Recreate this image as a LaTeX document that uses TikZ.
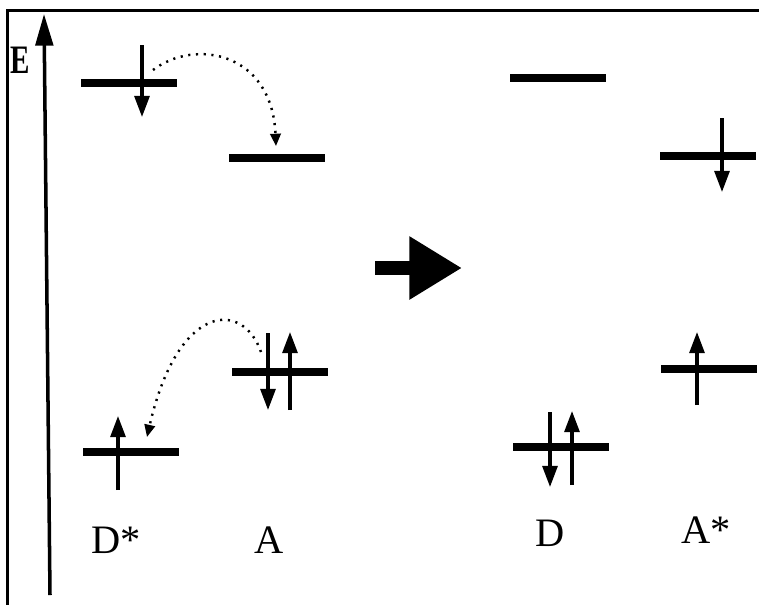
\documentclass[tikz,border=0pt]{standalone}
\usepackage{fontspec}
\setmainfont{Liberation Serif}
\usetikzlibrary{positioning, calc, arrows.meta}

\begin{document}
\begin{tikzpicture}[
  x=0.02cm, y=-0.02cm, % one unit = one pixel of the original
  every node/.style={font=\fontsize{23}{27}\selectfont},
  level/.style={draw=none, fill=black, inner sep=0, minimum width=96*0.02cm,
    minimum height=8*0.02cm},
  spin/.style={line width=1.8pt, -{Triangle[length=12pt, width=8.5pt]}},
  hop/.style={line width=1.4pt, dash pattern=on 1.2pt off 3.2pt,
    -{Triangle[length=7pt, width=6pt]}},
  bigarrow/.style={line width=8pt, -{Triangle[length=30pt, width=34pt]}},
]
  \useasboundingbox (0,0) rectangle (759,605);
  % frame (top and left only)
  \draw[line width=1.7pt] (759,10.5) -- (7.5,10.5) -- (7.5,605);

  % energy axis
  \coordinate (ebot) at (50,595);
  \coordinate (etop) at (44,14);
  \draw[line width=2pt, -{Triangle[length=18pt, width=10pt]}] (ebot) -- (etop);
  \node[inner sep=0, font=\fontsize{23}{26}\selectfont]
    (elabel) at (20,60) {\scalebox{0.72}[1]{\textbf{E}}};

  % left side: D* and A
  \node[level] (dsup) at (129,83) {};
  \node[level] (aup)  at (277,158) {};
  \node[level] (dslo) at (131,452) {};
  \node[level] (alo)  at (280,372) {};
  %% spins
  \draw[spin] ($(dsup)+(13,-38)$) -- ($(dsup)+(13,34)$);
  \draw[spin] ($(dslo)+(-13,38)$) -- ($(dslo)+(-13,-36)$);
  \draw[spin] ($(alo)+(-12,-39)$) -- ($(alo)+(-12,38)$);
  \draw[spin] ($(alo)+(10,38)$) -- ($(alo)+(10,-40)$);
  %% electron hops
  \coordinate (hop1) at (153,70);
  \coordinate (hop2) at (276,146);
  \draw[hop] (hop1) .. controls (195,38) and (272,52) .. (hop2);
  \coordinate (hop3) at (261,352);
  \coordinate (hop4) at (147,437);
  \draw[hop] (hop3) .. controls (243,300) and (178,302) .. (hop4);

  % transfer arrow
  \coordinate (tfrom) at (375,268);
  \coordinate (tto) at (462,268);
  \draw[bigarrow] (tfrom) -- (tto);

  % right side: D and A*
  \node[level] (dup)  at (558,78) {};
  \node[level] (asup) at (708,156) {};
  \node[level] (dlo)  at (561,447) {};
  \node[level] (aslo) at (709,369) {};
  %% spins
  \draw[spin] ($(asup)+(14,-38)$) -- ($(asup)+(14,36)$);
  \draw[spin] ($(dlo)+(-11,-35)$) -- ($(dlo)+(-11,40)$);
  \draw[spin] ($(dlo)+(11,38)$) -- ($(dlo)+(11,-36)$);
  \draw[spin] ($(aslo)+(-12,36)$) -- ($(aslo)+(-12,-37)$);

  % labels
  \node (ldstar) at (116,540) {D*};
  \node (la)     at (269,540) {A};
  \node (ld)     at (550,533) {D};
  \node (lastar) at (706,530) {A*};
\end{tikzpicture}
\end{document}
